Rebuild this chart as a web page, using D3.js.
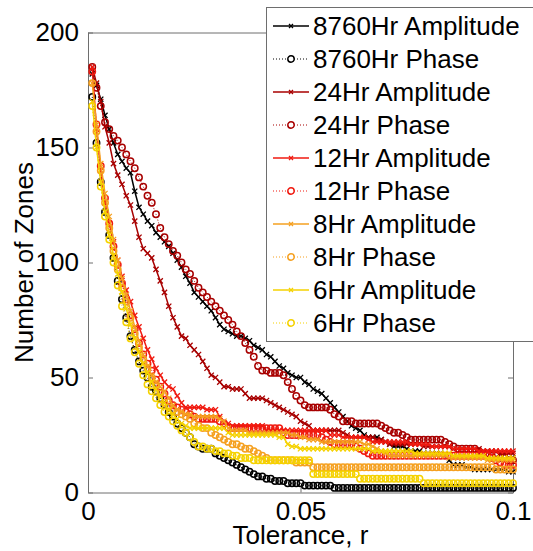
<!DOCTYPE html>
<html>
<head>
<meta charset="utf-8">
<script src="https://cdn.jsdelivr.net/npm/d3@7"></script>
<style>
body { margin: 0; background: #fff; }
svg { display: block; }
text { font-family: "Liberation Sans", Arial, sans-serif; }
</style>
</head>
<body>
<script>
// tolerance grid, 0.001 .. 0.1
var tolerance = d3.range(1, 101).map(function(i) { return i / 1000; });

var amp8760 = [182,177,171,164,158,152,147,144,141,139,
	131,124,121,118,116,113,111,109,107,104,
	101,98,94,91,87,85,83,81,79,76,
	73,71,70,69,68,68,67,66,64,63,
	62,60,59,57,55,54,52,51,50,50,
	48,47,45,44,43,41,39,37,35,33,
	31,29,28,27,25,24,24,24,23,22,
	21,20,20,20,19,18,18,18,17,17,
	17,17,17,16,14,12,12,12,11,11,
	10,10,10,10,10,10,10,10,9,9];
var ph8760 = [172,152,135,122,112,102,92,84,76,68,
	62,57,53,50,46,44,41,38,35,33,
	30,28,26,24,21,20,19,19,19,17,
	16,15,14,13,12,11,10,9,8,7,
	7,6,6,5,5,5,4,4,4,4,
	3,3,3,3,3,3,3,2,2,2,
	2,2,2,2,2,2,2,2,2,2,
	2,2,2,2,2,2,2,2,2,2,
	2,2,2,2,2,2,2,2,2,2,
	2,2,2,2,2,2,2,2,2,2];
var amp24 = [185,178,170,159,152,143,138,134,129,125,
	118,111,106,104,102,97,92,87,81,76,
	72,68,67,64,62,60,57,54,51,50,
	48,46,46,45,45,45,43,41,41,41,
	41,40,39,38,37,36,35,34,33,31,
	30,29,27,27,27,27,27,27,27,26,
	25,24,24,24,24,24,24,23,23,22,
	21,21,21,21,21,21,21,21,20,20,
	20,20,20,20,20,19,19,19,19,19,
	19,19,18,18,18,18,17,17,17,17];
var ph24 = [185,176,168,161,158,155,153,150,147,144,
	141,137,133,129,126,121,115,111,108,105,
	103,100,97,95,92,89,87,85,83,81,
	79,77,75,73,70,68,65,62,59,55,
	53,53,52,52,52,51,48,45,42,40,
	38,37,37,37,37,37,36,34,33,31,
	31,31,30,30,30,30,30,30,29,28,
	27,26,26,25,24,23,23,23,23,23,
	23,23,23,22,21,20,19,19,19,19,
	19,18,17,17,16,16,15,15,14,14];
var amp12 = [185,158,140,126,117,109,101,94,88,83,
	77,72,67,62,58,54,51,48,46,45,
	42,39,37,37,37,37,37,36,36,36,
	33,30,30,29,29,29,29,29,29,29,
	29,27,27,27,27,27,27,27,27,27,
	27,27,27,27,27,27,25,25,25,24,
	24,24,24,24,24,23,22,22,22,22,
	22,22,22,22,22,21,21,21,21,21,
	20,20,20,20,20,19,19,19,19,19,
	19,18,18,18,18,18,18,18,18,18];
var ph12 = [183,160,142,128,117,107,99,91,84,77,
	71,65,60,56,53,49,46,43,40,38,
	37,36,35,34,33,32,32,32,32,32,
	31,30,28,28,28,28,28,28,28,28,
	28,28,28,28,28,26,25,25,25,25,
	25,25,25,25,24,23,22,21,21,21,
	21,21,20,19,18,17,16,16,16,16,
	16,16,16,16,16,16,16,16,16,16,
	16,16,16,16,16,16,16,16,16,16,
	16,16,16,16,15,14,13,12,12,12];
var amp8 = [178,160,143,130,120,110,101,93,86,79,
	72,66,60,55,51,48,46,44,41,38,
	36,35,34,34,33,33,33,33,33,33,
	32,31,28,27,27,27,27,26,26,26,
	26,26,26,26,26,26,26,25,25,24,
	24,23,23,23,22,22,22,22,22,22,
	22,22,22,22,21,21,20,19,18,17,
	16,16,16,16,16,16,16,16,16,16,
	16,16,16,16,15,15,15,15,15,15,
	15,15,15,14,14,14,14,14,14,14];
var ph8 = [178,157,140,126,115,105,97,89,83,76,
	69,63,58,54,50,47,43,39,37,36,
	35,34,33,32,30,29,28,28,26,25,
	24,23,22,21,21,20,19,19,18,17,
	16,15,14,14,14,14,14,14,13,13,
	13,13,11,11,11,11,11,11,11,11,
	11,11,11,11,11,11,11,11,11,11,
	11,11,11,11,11,11,11,11,11,11,
	11,11,11,11,11,11,11,11,11,11,
	11,11,11,11,11,10,10,10,10,10];
var amp6 = [170,150,135,122,112,103,95,87,80,73,
	67,61,56,52,48,45,42,39,36,34,
	32,30,29,28,28,28,28,28,28,28,
	28,28,26,25,25,25,25,25,25,25,
	25,25,25,25,24,24,21,20,20,19,
	19,19,19,19,19,19,19,19,19,19,
	19,19,19,19,19,19,18,18,18,18,
	18,18,18,18,18,18,17,17,17,17,
	17,17,17,17,17,16,16,16,16,16,
	16,16,16,15,15,15,15,15,15,15];
var ph6 = [168,150,133,120,110,100,90,81,74,67,
	61,56,51,47,44,41,38,35,33,31,
	29,27,26,24,22,20,20,19,19,18,
	18,17,17,16,16,15,15,15,14,14,
	14,14,14,14,14,14,14,14,14,14,
	14,14,8,8,8,8,8,8,8,8,
	8,8,8,6,6,6,6,6,6,6,
	6,6,6,6,6,6,6,6,4,4,
	4,4,4,4,4,4,4,4,4,4,
	4,4,4,4,4,4,4,4,4,4];

var seriesNames = ["8760Hr Amplitude", "8760Hr Phase", "24Hr Amplitude", "24Hr Phase",
	"12Hr Amplitude", "12Hr Phase", "8Hr Amplitude", "8Hr Phase", "6Hr Amplitude", "6Hr Phase"];
var seriesValues = [amp8760, ph8760, amp24, ph24, amp12, ph12, amp8, ph8, amp6, ph6];
var seriesColors = ["#000000", "#000000", "#a80000", "#a80000", "#f01a10", "#f01a10",
	"#f5a020", "#f5a020", "#f5d200", "#f5d200"];

var xTicks = [0, 0.05, 0.1];
var yTicks = [0, 50, 100, 150, 200];

var width = 533, height = 551;
var mLeft = 88, mRight = 513, mTop = 32.5, mBottom = 492.5;

var svg = d3.select("body").append("svg")
	.attr("width", width)
	.attr("height", height);

var x = d3.scaleLinear().domain([0, 0.1]).range([mLeft, mRight]);
var y = d3.scaleLinear().domain([0, 200]).range([mBottom, mTop]);

var fontSize = 26;
var axisColor = "#6e6e6e";

function styleAxis(g) {
	g.select(".domain").attr("stroke", axisColor);
	g.selectAll(".tick line").attr("stroke", axisColor);
	g.selectAll("text").attr("font-size", fontSize).attr("fill", "#000")
		.attr("font-family", "Liberation Sans, Arial, sans-serif");
}

// axes box + ticks (ticks point inward, on all four sides)
svg.append("g")
	.attr("transform", "translate(0," + mBottom + ")")
	.call(d3.axisBottom(x).tickValues(xTicks).tickSizeInner(-5).tickSizeOuter(0).tickPadding(9)
		.tickFormat(function(d) { return d === 0 ? "0" : String(d); }))
	.call(styleAxis);
svg.append("g")
	.attr("transform", "translate(0," + mTop + ")")
	.call(d3.axisTop(x).tickValues(xTicks).tickSizeInner(-5).tickSizeOuter(0).tickFormat(""))
	.call(styleAxis);
svg.append("g")
	.attr("transform", "translate(" + mLeft + ",0)")
	.call(d3.axisLeft(y).tickValues(yTicks).tickSizeInner(-5).tickSizeOuter(0).tickPadding(9))
	.call(styleAxis);
svg.append("g")
	.attr("transform", "translate(" + mRight + ",0)")
	.call(d3.axisRight(y).tickValues(yTicks).tickSizeInner(-5).tickSizeOuter(0).tickFormat(""))
	.call(styleAxis);

// axis labels
svg.append("text")
	.attr("x", (mLeft + mRight) / 2)
	.attr("y", 544)
	.attr("text-anchor", "middle")
	.attr("font-size", fontSize)
	.text("Tolerance, r");
svg.append("text")
	.attr("transform", "translate(33," + ((mTop + mBottom) / 2) + ") rotate(-90)")
	.attr("text-anchor", "middle")
	.attr("font-size", fontSize)
	.text("Number of Zones");

var crossPath = "M-2.6,-2.6L2.6,2.6M-2.6,2.6L2.6,-2.6";

function isPhase(i) { return i % 2 === 1; }

var line = d3.line()
	.x(function(d) { return x(d[0]); })
	.y(function(d) { return y(d[1]); });

var plot = svg.append("g");

seriesValues.forEach(function(vals, s) {
	var pts = vals.map(function(v, i) { return [tolerance[i], v]; });
	var g = plot.append("g");
	var color = seriesColors[s];
	g.append("path")
		.datum(pts)
		.attr("fill", "none")
		.attr("stroke", color)
		.attr("stroke-width", isPhase(s) ? 1 : 1.5)
		.attr("stroke-dasharray", isPhase(s) ? "1,2" : null)
		.attr("d", line);
	if (isPhase(s)) {
		g.selectAll("circle")
			.data(pts)
			.enter().append("circle")
			.attr("cx", function(d) { return x(d[0]); })
			.attr("cy", function(d) { return y(d[1]); })
			.attr("r", 3.2)
			.attr("fill", "none")
			.attr("stroke", color)
			.attr("stroke-width", 1.5);
	} else {
		g.selectAll("path.mk")
			.data(pts)
			.enter().append("path")
			.attr("class", "mk")
			.attr("transform", function(d) { return "translate(" + x(d[0]) + "," + y(d[1]) + ")"; })
			.attr("d", crossPath)
			.attr("fill", "none")
			.attr("stroke", color)
			.attr("stroke-width", 1.3);
	}
});

// legend
var legend = svg.append("g");
legend.append("rect")
	.attr("x", 266.5)
	.attr("y", 7.5)
	.attr("width", 300)
	.attr("height", 334)
	.attr("fill", "#fff")
	.attr("stroke", axisColor)
	.attr("stroke-width", 1);

seriesNames.forEach(function(name, s) {
	var cy = 26 + s * 33;
	var color = seriesColors[s];
	var row = legend.append("g").attr("transform", "translate(0," + cy + ")");
	row.append("line")
		.attr("x1", 273).attr("x2", 309)
		.attr("y1", 0).attr("y2", 0)
		.attr("stroke", color)
		.attr("stroke-width", isPhase(s) ? 1 : 1.5)
		.attr("stroke-dasharray", isPhase(s) ? "1,2" : null);
	if (isPhase(s)) {
		row.append("circle").attr("cx", 291).attr("cy", 0).attr("r", 3.2)
			.attr("fill", "#fff").attr("stroke", color).attr("stroke-width", 1.5);
	} else {
		row.append("path").attr("transform", "translate(291,0)")
			.attr("d", "M-2,-2L2,2M-2,2L2,-2")
			.attr("stroke", color).attr("stroke-width", 1.3);
	}
	row.append("text")
		.attr("x", 313)
		.attr("y", 9)
		.attr("font-size", fontSize)
		.text(name);
});
</script>
</body>
</html>
